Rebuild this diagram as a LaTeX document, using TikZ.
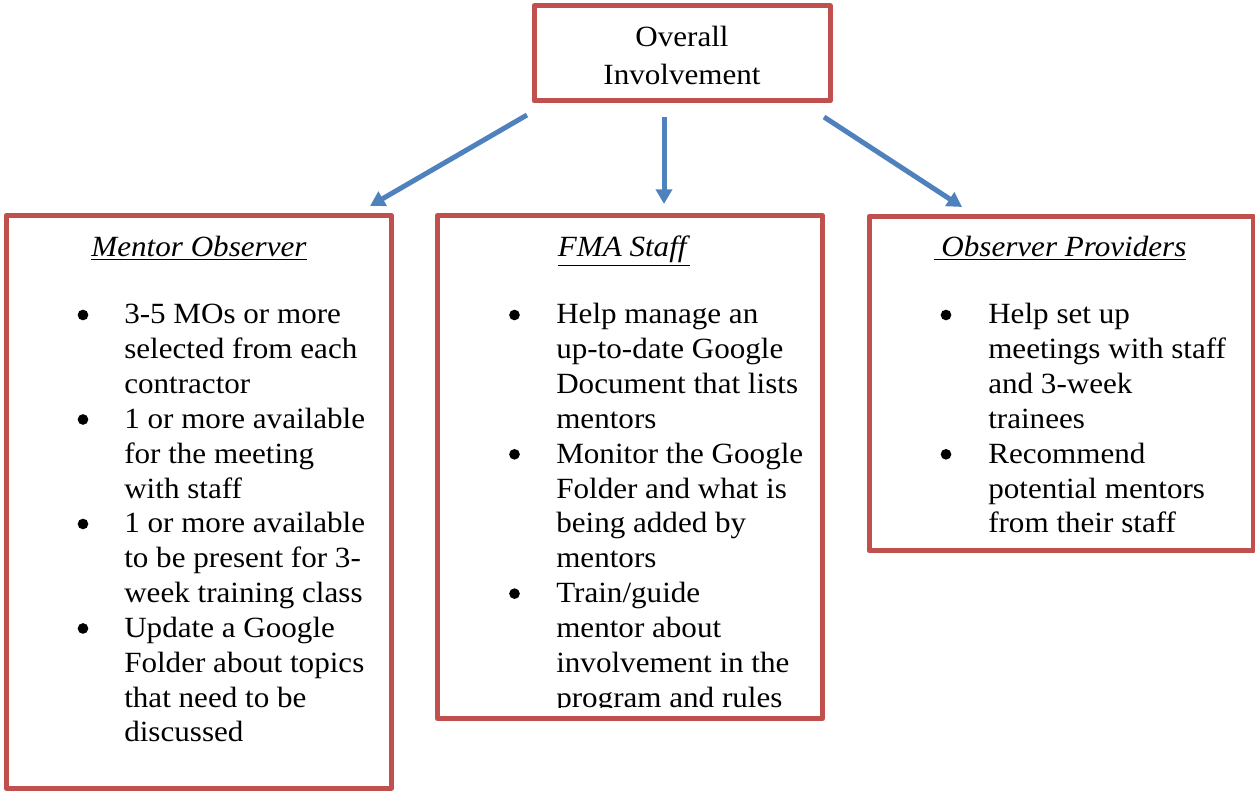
\documentclass[tikz,border=0pt]{standalone}
\usepackage{fontspec}
\setmainfont{Liberation Serif}[FakeStretch=1.06]
\usetikzlibrary{arrows.meta}
\definecolor{boxred}{HTML}{C0504D}
\definecolor{arrowblue}{HTML}{4F81BD}
\begin{document}
\begin{tikzpicture}[x=0.75pt,y=-0.75pt,
  box/.style={draw=boxred,line width=3.75pt,line join=round,inner sep=0},
  conn/.style={draw=arrowblue,line width=3.75pt,-{Triangle[length=11pt,width=12pt]}},
  txt/.style={inner sep=0,anchor=base west,font=\fontsize{22pt}{26pt}\selectfont},
  ctxt/.style={inner sep=0,anchor=base,font=\fontsize{22pt}{26pt}\selectfont},
  bul/.style={circle,fill=black,inner sep=0,minimum size=8pt}]
\useasboundingbox (0,0) rectangle (1255,791);
% boxes
\node[box,minimum width=222pt,minimum height=71.25pt] (top) at (682,53.5) {};
\node[box,minimum width=289.125pt,minimum height=429.375pt] (left) at (198.75,501.75) {};
\node[box,minimum width=288.75pt,minimum height=377.25pt] (mid) at (630,467) {};
\node[box,minimum width=288pt,minimum height=250.5pt] (right) at (1061,383.5) {};
% top text
\node[ctxt] (t1) at (682,47) {Overall};
\node[ctxt] (t2) at (682,85) {Involvement};
% arrows
\coordinate (aLs) at (527,115); \coordinate (aLe) at (370,206);
\coordinate (aMs) at (664,117); \coordinate (aMe) at (664,204);
\coordinate (aRs) at (824,117); \coordinate (aRe) at (962,207);
\draw[conn] (aLs) -- (aLe);
\draw[conn] (aMs) -- (aMe);
\draw[conn] (aRs) -- (aRe);
% headings
\node[ctxt] (hL) at (199,257) {\underline{\textit{Mentor Observer}}};
\node[ctxt] (hM) at (624,257) {\underline{\textit{FMA Staff}}};
\node[ctxt] (hR) at (1060,257) {\underline{\ \textit{Observer Providers}}};
% left items
\foreach \t [count=\i from 0] in {3-5 MOs or more,selected from each,contractor,1 or more available,for the meeting,with staff,1 or more available,to be present for 3-,week training class,Update a Google,Folder about topics,that need to be,discussed}
  \node[txt] (mo\i) at (124,{324+34.83*\i}) {\t};
\foreach \i in {0,3,6,9}
  \node[bul] (bL\i) at (83,{315+34.83*\i}) {};
% middle items
\begin{scope}
\clip (440,218) rectangle (820,707);
\foreach \t [count=\i from 0] in {Help manage an,up-to-date Google,Document that lists,mentors,Monitor the Google,Folder and what is,being added by,mentors,Train/guide,mentor about,involvement in the,program and rules}
  \node[txt] (fm\i) at (556,{324+34.83*\i}) {\t};
\foreach \i in {0,4,8}
  \node[bul] (bM\i) at (514.5,{315+34.83*\i}) {};
\end{scope}
% right items
\foreach \t [count=\i from 0] in {Help set up,meetings with staff,and 3-week,trainees,Recommend,potential mentors,from their staff}
  \node[txt] (op\i) at (988,{324+34.83*\i}) {\t};
\foreach \i in {0,4}
  \node[bul] (bR\i) at (946,{315+34.83*\i}) {};
\end{tikzpicture}
\end{document}
